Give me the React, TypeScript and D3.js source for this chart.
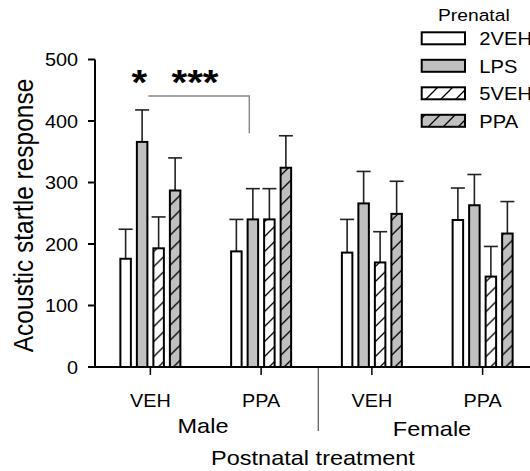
import React from 'react';
import * as d3 from 'd3';

// groups along the x axis (sex x postnatal treatment)
const groups = ['M-VEH', 'M-PPA', 'F-VEH', 'F-PPA'];
const groupLabels = ['VEH', 'PPA', 'VEH', 'PPA'];
const prenatal = ['2VEH', 'LPS', '5VEH', 'PPA'];

// mean startle per group, one array per prenatal condition
const veh2Means = [176, 188, 186, 239];
const lpsMeans = [366, 240, 266, 263];
const veh5Means = [193, 240, 170, 147];
const ppaMeans = [287, 324, 249, 217];

// top of the (upper) error bar
const veh2Err = [224, 240, 240, 291];
const lpsErr = [418, 290, 318, 313];
const veh5Err = [244, 290, 220, 196];
const ppaErr = [340, 376, 302, 269];

const yTicks = [0, 100, 200, 300, 400, 500];

const W = 530;
const H = 471;
const SX = 1.12; // text in the source is a bit wider than normal
const FONT = 'Arial, "Liberation Sans", sans-serif';

const T: React.FC<{ x: number; y: number; size: number; anchor?: string; rot?: boolean; weight?: string; children: React.ReactNode }> = ({ x, y, size, anchor = 'start', rot, weight, children }) => (
  <text
    transform={`translate(${x},${y}) scale(${SX},1)${rot ? ' rotate(-90)' : ''}`}
    fontSize={size}
    fontFamily={FONT}
    fontWeight={weight}
    textAnchor={anchor}
    fill="#000"
  >
    {children}
  </text>
);

const App: React.FC = () => {
  const x0 = d3.scaleBand<string>().domain(groups).range([95, 538]).padding(0);
  const x1 = d3.scaleBand<string>().domain(prenatal).range([-30, 30]).paddingInner(0.364).paddingOuter(0);
  const y = d3.scaleLinear().domain([0, 500]).range([367, 59.5]);

  const means = [veh2Means, lpsMeans, veh5Means, ppaMeans];
  const errs = [veh2Err, lpsErr, veh5Err, ppaErr];
  const fills = ['#fff', '#c0c0c0', 'url(#hatchW)', 'url(#hatchG)'];

  const gc = (g: string) => (x0(g) ?? 0) + x0.bandwidth() / 2;

  return (
    <svg width={W} height={H} style={{ position: 'absolute', left: 0, top: 0, background: '#fff' }}>
      <defs>
        <pattern id="hatchW" patternUnits="userSpaceOnUse" width={15} height={15}>
          <rect width={15} height={15} fill="#fff" />
          <path d="M0,15 L15,0 M-4,4 L4,-4 M11,19 L19,11" stroke="#000" strokeWidth={1.3} />
        </pattern>
        <pattern id="hatchG" patternUnits="userSpaceOnUse" width={15} height={15}>
          <rect width={15} height={15} fill="#c0c0c0" />
          <path d="M0,15 L15,0 M-4,4 L4,-4 M11,19 L19,11" stroke="#000" strokeWidth={1.3} />
        </pattern>
      </defs>

      {/* bars */}
      {groups.map((g, gi) => (
        <g key={g} transform={`translate(${gc(g)},0)`}>
          {prenatal.map((p, pi) => {
            const bx = x1(p) ?? 0;
            const bw = x1.bandwidth();
            const cx = bx + bw / 2;
            const top = y(means[pi][gi]);
            const etop = y(errs[pi][gi]);
            return (
              <g key={p}>
                <line x1={cx} x2={cx} y1={top} y2={etop} stroke="#222" strokeWidth={1.6} />
                <line x1={cx - 7} x2={cx + 7} y1={etop} y2={etop} stroke="#222" strokeWidth={1.6} />
                <rect x={bx} y={top} width={bw} height={y(0) - top} fill={fills[pi]} stroke="#000" strokeWidth={2} />
              </g>
            );
          })}
        </g>
      ))}

      {/* y axis */}
      <line x1={95} x2={95} y1={y(500)} y2={y(0)} stroke="#000" strokeWidth={2} />
      {yTicks.map(t => (
        <g key={t}>
          <line x1={88} x2={95} y1={y(t)} y2={y(t)} stroke="#000" strokeWidth={2} />
          <T x={78} y={y(t) + 6.6} size={17.7} anchor="end">{t}</T>
        </g>
      ))}

      {/* x axis */}
      <line x1={94} x2={W} y1={y(0)} y2={y(0)} stroke="#000" strokeWidth={2} />
      {groups.map((g, i) => (
        <g key={g}>
          <line x1={gc(g)} x2={gc(g)} y1={y(0)} y2={y(0) + 8} stroke="#000" strokeWidth={1.5} />
          <T x={gc(g)} y={407} size={17.7} anchor="middle">{groupLabels[i]}</T>
        </g>
      ))}
      <line x1={318.3} x2={318.3} y1={368} y2={431} stroke="#555" strokeWidth={1.2} />

      <T x={203} y={433} size={21} anchor="middle">Male</T>
      <T x={432} y={436} size={21} anchor="middle">Female</T>
      <T x={313} y={465} size={21} anchor="middle">Postnatal treatment</T>
      <T x={33} y={215.5} size={24.5} anchor="middle" rot>Acoustic startle response</T>

      {/* significance */}
      <path d={`M${gc('M-VEH') - 2},96 H249.3 V133.3`} fill="none" stroke="#888" strokeWidth={1.4} />
      <T x={139.3} y={94} size={36} anchor="middle" weight="bold">*</T>
      <T x={195} y={94} size={36} anchor="middle" weight="bold">***</T>

      {/* legend */}
      <T x={438} y={20.7} size={17.2}>Prenatal</T>
      {prenatal.map((p, i) => (
        <g key={p}>
          <rect x={421.7} y={32.3 + i * 27.5} width={43.3} height={12} fill={fills[i]} stroke="#000" strokeWidth={2} />
          <T x={479.3} y={45 + i * 27.7} size={18}>{p}</T>
        </g>
      ))}
    </svg>
  );
};

export default App;
